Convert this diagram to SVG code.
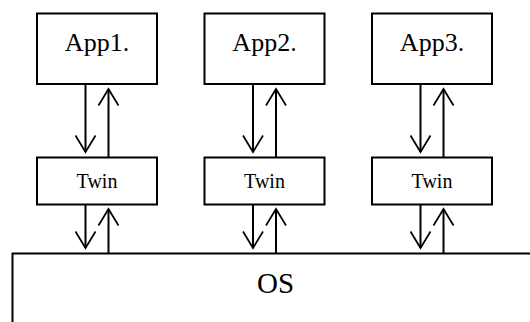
<svg xmlns="http://www.w3.org/2000/svg" width="530" height="322" viewBox="0 0 530 322">
<style>
.box{fill:#fff;stroke:#000;stroke-width:2}
text{font-family:"Liberation Serif","Times New Roman",serif;fill:#000;text-anchor:middle}
.app{font-size:26px}
.twin{font-size:20px}
.os{font-size:29px}
.conn line{stroke:#000;stroke-width:2;fill:none}
</style>
<defs>
<marker id="arr" markerUnits="userSpaceOnUse" orient="auto" markerWidth="20" markerHeight="24" refX="0" refY="0" overflow="visible">
<path d="M-16.5,-10 L0,0 L-16.5,10" fill="none" stroke="#000" stroke-width="1.7"/>
</marker>
</defs>
<rect width="530" height="322" fill="#fff"/>
<g id="os">
<rect class="box" x="12.5" y="253.5" width="600" height="200"/>
<text class="os" x="275.5" y="292.5">OS</text>
</g>
<g id="app1">
<rect class="box" x="37" y="13.5" width="120" height="70.5"/>
<text class="app" x="97" y="51">App1.</text>
</g>
<g id="app2">
<rect class="box" x="204.5" y="13.5" width="120" height="70.5"/>
<text class="app" x="264.5" y="51">App2.</text>
</g>
<g id="app3">
<rect class="box" x="372" y="13.5" width="120" height="70.5"/>
<text class="app" x="432" y="51">App3.</text>
</g>
<g id="twin1">
<rect class="box" x="37" y="157.5" width="120" height="47"/>
<text class="twin" x="97" y="187.5">Twin</text>
</g>
<g id="twin2">
<rect class="box" x="204.5" y="157.5" width="120" height="47"/>
<text class="twin" x="264.5" y="187.5">Twin</text>
</g>
<g id="twin3">
<rect class="box" x="372" y="157.5" width="120" height="47"/>
<text class="twin" x="432" y="187.5">Twin</text>
</g>
<g id="connectors" class="conn">
<line x1="85.5" y1="84" x2="85.5" y2="152" marker-end="url(#arr)"/>
<line x1="108.5" y1="157.5" x2="108.5" y2="89" marker-end="url(#arr)"/>
<line x1="85.5" y1="204.5" x2="85.5" y2="248" marker-end="url(#arr)"/>
<line x1="108.5" y1="253.5" x2="108.5" y2="209" marker-end="url(#arr)"/>
<line x1="253" y1="84" x2="253" y2="152" marker-end="url(#arr)"/>
<line x1="276" y1="157.5" x2="276" y2="89" marker-end="url(#arr)"/>
<line x1="253" y1="204.5" x2="253" y2="248" marker-end="url(#arr)"/>
<line x1="276" y1="253.5" x2="276" y2="209" marker-end="url(#arr)"/>
<line x1="420.5" y1="84" x2="420.5" y2="152" marker-end="url(#arr)"/>
<line x1="443.5" y1="157.5" x2="443.5" y2="89" marker-end="url(#arr)"/>
<line x1="420.5" y1="204.5" x2="420.5" y2="248" marker-end="url(#arr)"/>
<line x1="443.5" y1="253.5" x2="443.5" y2="209" marker-end="url(#arr)"/>
</g>
</svg>
